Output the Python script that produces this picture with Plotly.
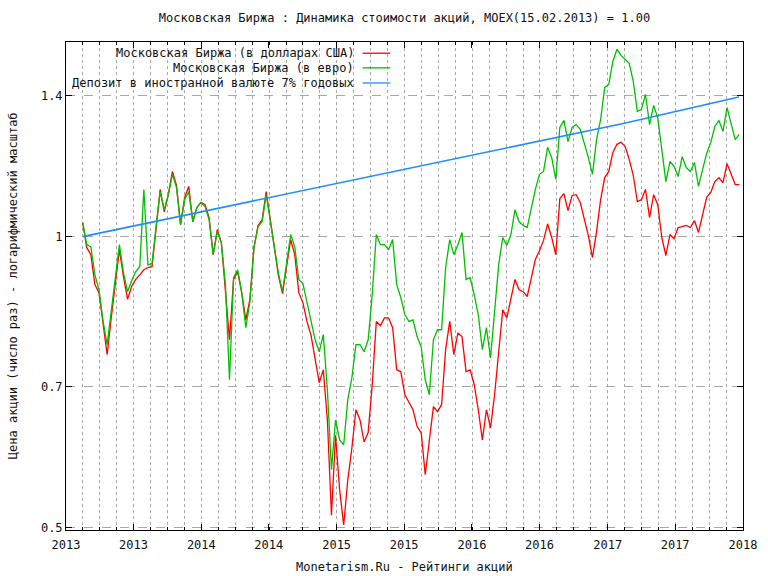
import pandas as pd
import plotly.graph_objects as go

FONT = "DejaVu Sans Mono"
RED = "#ff0000"
GREEN = "#00c000"
BLUE = "#1e8cff"
GRID = "#a8a8a8"

# MOEX index rebased to 15.02.2013 = 1.00, sampled every 11 days
START = "2013-02-15"
STEP = "11D"

moex_usd = [
    1.034, 0.974, 0.958, 0.892, 0.875, 0.811, 0.755, 0.824, 0.896, 0.969,
    0.909, 0.861, 0.888, 0.903, 0.913, 0.924, 0.929, 0.931, 1.019, 1.119,
    1.061, 1.105, 1.168, 1.130, 1.029, 1.098, 1.127, 1.036, 1.072, 1.085,
    1.079, 1.046, 0.958, 1.017, 0.986, 0.885, 0.782, 0.903, 0.920, 0.875,
    0.820, 0.861, 0.974, 1.027, 1.041, 1.113, 1.041, 0.969, 0.911, 0.873,
    0.935, 0.993, 0.958, 0.875, 0.854, 0.817, 0.790, 0.746, 0.706, 0.728,
    0.646, 0.515, 0.623, 0.547, 0.503, 0.560, 0.604, 0.662, 0.646, 0.613,
    0.627, 0.703, 0.817, 0.809, 0.824, 0.824, 0.805, 0.728, 0.725, 0.686,
    0.674, 0.662, 0.636, 0.627, 0.567, 0.619, 0.667, 0.659, 0.670, 0.764,
    0.817, 0.755, 0.795, 0.788, 0.725, 0.728, 0.703, 0.662, 0.616, 0.662,
    0.634, 0.686, 0.755, 0.840, 0.824, 0.861, 0.903, 0.881, 0.877, 0.867,
    0.905, 0.947, 0.967, 0.991, 1.031, 0.998, 0.958, 1.095, 1.108, 1.064,
    1.103, 1.105, 1.085, 1.046, 1.002, 0.951, 1.012, 1.092, 1.151, 1.168,
    1.222, 1.246, 1.252, 1.240, 1.202, 1.157, 1.087, 1.092, 1.119, 1.046,
    1.105, 1.079, 0.998, 0.956, 1.005, 0.995, 1.022, 1.024, 1.027, 1.022,
    1.039, 1.010, 1.054, 1.098, 1.111, 1.140, 1.151, 1.137, 1.190, 1.160,
    1.132, 1.132,
]

moex_eur = [
    1.034, 0.981, 0.976, 0.913, 0.881, 0.817, 0.773, 0.834, 0.903, 0.981,
    0.918, 0.877, 0.900, 0.920, 0.931, 1.119, 0.935, 0.938, 1.024, 1.113,
    1.066, 1.105, 1.160, 1.124, 1.029, 1.092, 1.113, 1.036, 1.072, 1.085,
    1.074, 1.041, 0.958, 1.012, 0.986, 0.892, 0.711, 0.907, 0.924, 0.875,
    0.805, 0.856, 0.974, 1.024, 1.036, 1.105, 1.039, 0.974, 0.916, 0.877,
    0.942, 1.005, 0.976, 0.903, 0.894, 0.854, 0.817, 0.782, 0.760, 0.792,
    0.694, 0.574, 0.646, 0.616, 0.609, 0.678, 0.714, 0.773, 0.773, 0.760,
    0.782, 0.871, 1.005, 0.981, 0.981, 0.969, 0.993, 0.892, 0.865, 0.830,
    0.817, 0.820, 0.788, 0.769, 0.711, 0.686, 0.782, 0.801, 0.801, 0.929,
    0.993, 0.958, 0.981, 1.010, 0.903, 0.907, 0.871, 0.830, 0.764, 0.805,
    0.749, 0.830, 0.935, 0.998, 0.979, 1.005, 1.066, 1.036, 1.027, 1.022,
    1.074, 1.119, 1.160, 1.168, 1.237, 1.207, 1.146, 1.297, 1.319, 1.254,
    1.297, 1.306, 1.291, 1.251, 1.207, 1.160, 1.260, 1.322, 1.427, 1.437,
    1.518, 1.563, 1.540, 1.526, 1.511, 1.448, 1.347, 1.354, 1.403, 1.306,
    1.367, 1.328, 1.237, 1.140, 1.196, 1.182, 1.154, 1.210, 1.179, 1.168,
    1.193, 1.127, 1.173, 1.219, 1.251, 1.300, 1.319, 1.285, 1.360, 1.306,
    1.260, 1.276,
]

# foreign-currency deposit at 7% a year
deposit_dates = ["2013-02-15", "2014-02-15", "2015-02-15", "2016-02-15", "2017-02-15", "2017-12-21"]
deposit = [1.00, 1.07, 1.145, 1.225, 1.31, 1.395]

x_tick_dates = ["2013-01-01", "2013-07-02", "2014-01-01", "2014-07-02", "2015-01-01", "2015-07-02",
                "2016-01-01", "2016-07-01", "2017-01-01", "2017-07-02", "2018-01-01"]
x_tick_labels = ["2013", "2013", "2014", "2014", "2015", "2015", "2016", "2016", "2017", "2017", "2018"]
y_ticks = [0.5, 0.7, 1, 1.4]
y_tick_labels = ["0.5", "0.7", "1", "1.4"]

legend_names = ["Московская Биржа (в долларах США)", "Московская Биржа (в евро)",
                "Депозит в иностранной валюте 7% годовых"]

dates = pd.date_range(START, periods=len(moex_usd), freq=STEP)

fig = go.Figure()
fig.add_trace(go.Scatter(x=dates, y=moex_usd, name=legend_names[0], mode="lines",
                         line=dict(color=RED, width=1.3)))
fig.add_trace(go.Scatter(x=dates, y=moex_eur, name=legend_names[1], mode="lines",
                         line=dict(color=GREEN, width=1.3)))
fig.add_trace(go.Scatter(x=pd.to_datetime(deposit_dates), y=deposit, name=legend_names[2], mode="lines",
                         line=dict(color=BLUE, width=1.6)))

# gnuplot-style legend: text right-aligned, sample line to the right, white box
fig.add_shape(type="rect", xref="paper", yref="paper", x0=0.002, x1=0.483, y0=0.902, y1=0.998,
              fillcolor="white", line_width=0, layer="between")
rows_y = [0.977, 0.947, 0.916]
for name, color, yy in zip(legend_names, [RED, GREEN, BLUE], rows_y):
    fig.add_annotation(text=name, xref="paper", yref="paper", x=0.429, y=yy, xanchor="right",
                       yanchor="middle", showarrow=False, font=dict(family=FONT, size=12, color="#111"))
    fig.add_shape(type="line", xref="paper", yref="paper", x0=0.438, x1=0.479, y0=yy, y1=yy,
                  line=dict(color=color, width=1.3))

fig.add_annotation(text="Цена акции (число раз) - логарифмический масштаб", xref="paper", yref="paper",
                   x=-0.078, y=0.5, textangle=-90, showarrow=False, xanchor="center", yanchor="middle",
                   font=dict(family=FONT, size=12, color="#111"))
fig.add_annotation(text="Monetarism.Ru - Рейтинги акций", xref="paper", yref="paper",
                   x=0.5, y=-0.076, showarrow=False, xanchor="center", yanchor="middle",
                   font=dict(family=FONT, size=12, color="#111"))

fig.update_layout(
    width=768, height=576, template="none", showlegend=False,
    paper_bgcolor="white", plot_bgcolor="white",
    margin=dict(l=66, r=25, t=42, b=46),
    font=dict(family=FONT, size=12, color="#111"),
    title=dict(text="Московская Биржа : Динамика стоимости акций, MOEX(15.02.2013) = 1.00",
               x=0.5, xref="paper", y=1 - 18 / 576, yref="container", yanchor="middle",
               font=dict(family=FONT, size=12, color="#111")),
)
fig.update_xaxes(
    type="date", range=["2013-01-01", "2018-01-01"],
    tickmode="array", tickvals=x_tick_dates, ticktext=x_tick_labels,
    ticks="inside", ticklen=6, tickcolor="black", ticklabelstandoff=4,
    showline=True, linecolor="black", linewidth=1, mirror="allticks",
    showgrid=False, zeroline=False,
    minor=dict(tickmode="linear", tick0="2013-01-01", dtick=3944700000, ticks="inside", ticklen=3,
               tickcolor="black", showgrid=True, gridcolor=GRID, griddash="dot", gridwidth=1),
)
fig.update_yaxes(
    type="log", range=[-0.3036, 0.2014],
    tickmode="array", tickvals=y_ticks, ticktext=y_tick_labels,
    ticks="inside", ticklen=6, tickcolor="black",
    showline=True, linecolor="black", linewidth=1, mirror="allticks",
    showgrid=True, gridcolor=GRID, griddash="dash", gridwidth=1, zeroline=False,
)

# drop the default 8px body margin so the 768x576 figure fills the window exactly
fig.write_html("out.html", config={"displayModeBar": False},
               post_script="document.body.style.margin='0';")
